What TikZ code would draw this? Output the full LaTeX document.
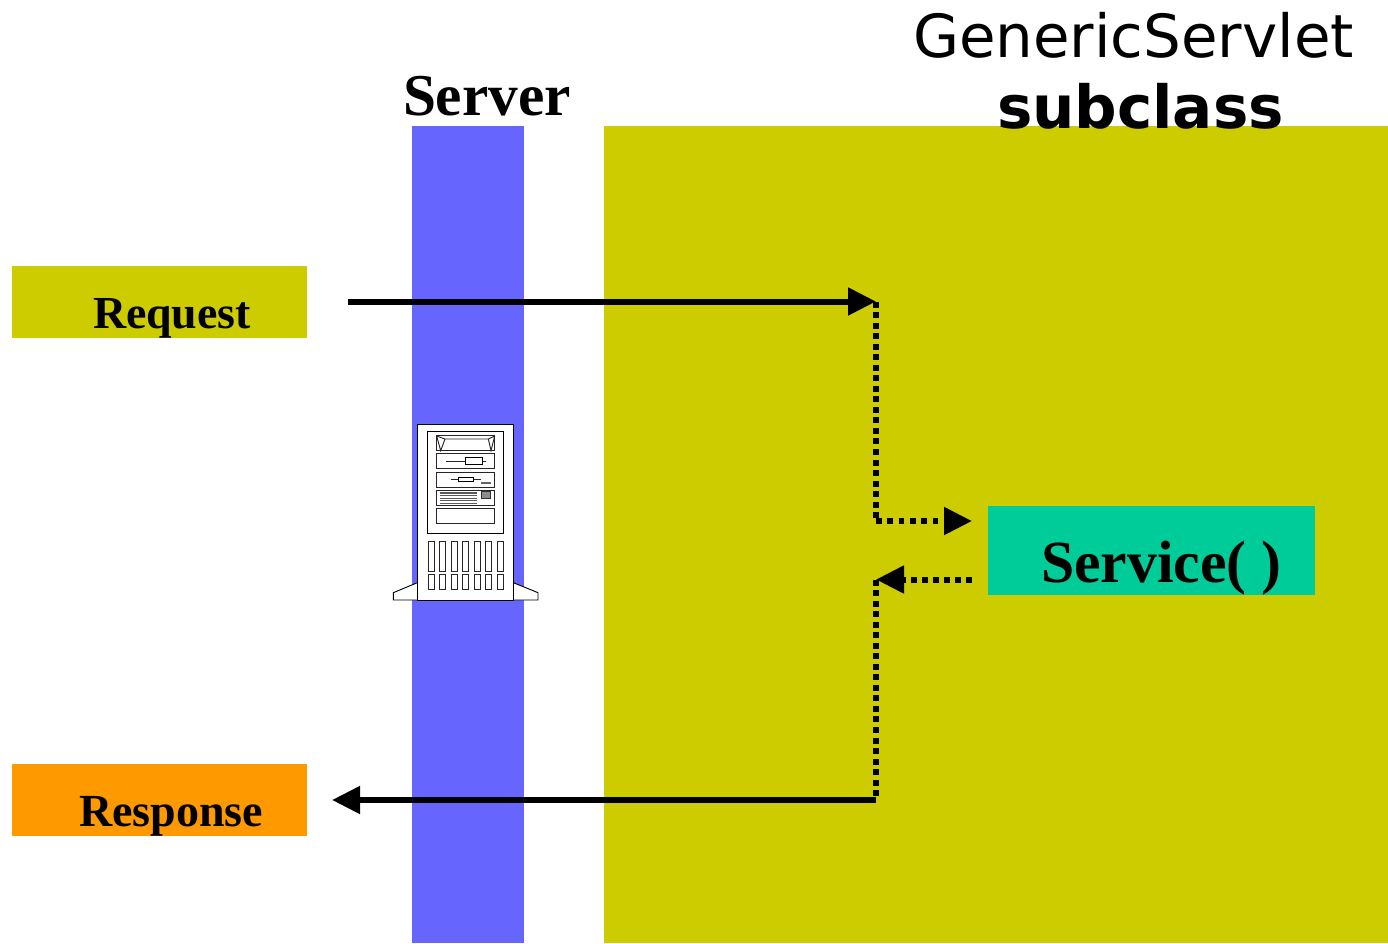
\documentclass[tikz,border=0pt]{standalone}
\usepackage{fontspec}
\setmainfont{Liberation Serif}
\newfontfamily\dejavu{DejaVu Sans}
\usetikzlibrary{arrows.meta}
\definecolor{olive}{HTML}{CCCC00}
\definecolor{bluebar}{HTML}{6666FF}
\definecolor{svcgreen}{HTML}{00CC99}
\definecolor{resporange}{HTML}{FF9900}
\tikzset{
  x=0.75pt,y=-0.75pt,
  panel/.style={fill=#1,draw=none,inner sep=0pt,outer sep=0pt,anchor=north west},
  lbl/.style={inner sep=0pt,outer sep=0pt,anchor=base west,text=black},
  solidline/.style={line width=4.5pt,-{Triangle[length=21pt,width=20pt]}},
  dotline/.style={line width=4.5pt,dash pattern=on 4.5pt off 3.4pt},
  dottipout/.style={line width=4.5pt,dash pattern=on 4.2pt off 4.3pt,-{Triangle[length=21pt,width=20pt]}},
  dottipback/.style={line width=4.5pt,dash pattern=on 4.5pt off 3.75pt,-{Triangle[length=21pt,width=20pt]}},
  srv/.style={draw=black,line width=0.7pt,fill=white},
  srvthin/.style={draw=black!85,line width=0.7pt}
}
\begin{document}
\begin{tikzpicture}
\useasboundingbox (0,0) rectangle (1388,943);
\fill[white] (0,0) rectangle (1388,943);
\node[panel=bluebar,minimum width=84pt,minimum height=613.0pt] (bar) at (412,126) {};
\node[panel=olive,minimum width=588pt,minimum height=613.0pt] (sub) at (604,126) {};
\node[panel=olive,minimum width=221.25pt,minimum height=54pt] (req) at (12,266) {};
\node[panel=resporange,minimum width=221.25pt,minimum height=54pt] (resp) at (12,764) {};
\node[panel=svcgreen,minimum width=245.25pt,minimum height=66.75pt] (svc) at (988,506) {};
\node[lbl,font=\bfseries\fontsize{44.5}{44.5}\selectfont] (lserver) at (403,115) {Server};
\node[lbl,font=\dejavu\fontsize{44.6}{44.6}\selectfont] (lgen) at (913,57) {GenericServlet};
\node[lbl,font=\dejavu\bfseries\fontsize{44.6}{44.6}\selectfont] (lsub) at (997,128.5) {subclass};
\node[lbl,font=\bfseries\fontsize{34.4}{34.4}\selectfont] (lreq) at (93,328) {Request};
\node[lbl,font=\bfseries\fontsize{34.5}{34.5}\selectfont] (lresp) at (79,826) {Response};
\node[lbl,font=\bfseries\fontsize{44.8}{44.8}\selectfont] (lsvc) at (1041,582) {Service( )};
% server tower, drawn in coordinates of a 3x enlargement
\begin{scope}[shift={(380,410)},x=0.25pt,y=-0.25pt]
  \draw[srv] (112,518)--(40,548)--(40,570)--(474,570)--(474,548)--(400,518)--cycle;
  \draw[srv] (112,43) rectangle (400,570);
  \draw[srv] (142,65) rectangle (371,370);
  \draw[srvthin] (170,75) rectangle (344,122);
  \draw[srvthin] (170,78)--(195,87)--(325,87)--(344,78) (170,78)--(182,122)--(195,87) (344,78)--(333,122)--(325,87);
  \draw[srvthin] (170,131) rectangle (344,176);
  \draw[srvthin] (198,153)--(318,153);
  \draw[srv] (256,143) rectangle (308,164);
  \draw[srvthin] (170,186) rectangle (344,231);
  \draw[srvthin] (212,208)--(302,208);
  \draw[srv] (235,201) rectangle (280,215);
  \fill[black!60] (303,215) rectangle (332,222);
  \draw[srvthin] (170,240) rectangle (344,286);
  \foreach \yy in {249,257,265,272,280} \draw[black!65,line width=1.1pt] (179,\yy)--(291,\yy);
  \draw[black!80,line width=0.5pt,fill=black!45] (303,245) rectangle (332,264);
  \draw[srvthin] (170,295) rectangle (344,340);
  \foreach \xx in {144,178,213,247,282,316,351} {
    \draw[srvthin] (\xx,393) rectangle ++(19,91);
    \draw[srvthin] (\xx,492) rectangle ++(19,46);
  }
\end{scope}
\coordinate (reqStart) at (348,301.5);
\coordinate (turnA) at (876,301.5);
\coordinate (turnB) at (876,521);
\coordinate (svcIn) at (972,521);
\coordinate (svcOut) at (972,579.5);
\coordinate (turnC) at (876,579.5);
\coordinate (turnD) at (876,800);
\coordinate (respEnd) at (332,800);
\draw[solidline] (reqStart)--(turnA);
\draw[dotline] (turnA)--(turnB);
\draw[dottipout] (turnB)--(svcIn);
\draw[dottipback] (svcOut)--(turnC);
\draw[dotline] (turnC)--(turnD);
\draw[solidline] (turnD)--(respEnd);
\end{tikzpicture}
\end{document}
